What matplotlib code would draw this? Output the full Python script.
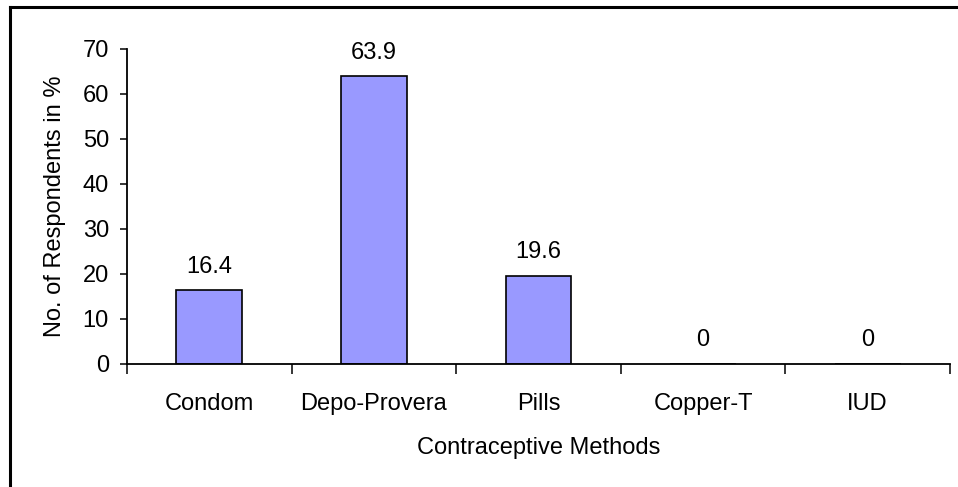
import matplotlib
matplotlib.use('Agg')
import matplotlib.pyplot as plt
from matplotlib.lines import Line2D

methods = ['Condom', 'Depo-Provera', 'Pills', 'Copper-T', 'IUD']
percent = [16.4, 63.9, 19.6, 0, 0]

plt.rcParams['font.family'] = ['Liberation Sans', 'DejaVu Sans']
FS = 17

fig = plt.figure(figsize=(9.58, 4.87), dpi=100)
ax = fig.add_axes([0.1326, 0.2526, 0.8590, 0.6468])

pos = list(range(len(methods)))
ax.bar(pos, percent, width=0.40, color='#9999FF', edgecolor='black', linewidth=1.2)

for x, v in zip(pos, percent):
    txt = '0' if v == 0 else f'{v:.1f}'
    ax.annotate(txt, (x, v), xytext=(0, 9), textcoords='offset points',
                ha='center', va='bottom', fontsize=FS)

ax.set_xlim(-0.5, len(methods) - 0.5)
ax.set_ylim(0, 70)
ax.set_yticks(range(0, 71, 10))

# category separators as major ticks, names on minor ticks
ax.set_xticks([p - 0.5 for p in pos] + [len(methods) - 0.5])
ax.set_xticklabels([])
ax.set_xticks(pos, minor=True)
ax.set_xticklabels(methods, minor=True)
ax.tick_params(axis='x', which='major', direction='out', length=7, width=1.1)
ax.tick_params(axis='x', which='minor', length=0, pad=21, labelsize=FS)
ax.tick_params(axis='y', direction='out', length=5, width=1.1, labelsize=FS, pad=8)

for s in ['top', 'right']:
    ax.spines[s].set_visible(False)
for s in ['left', 'bottom']:
    ax.spines[s].set_linewidth(1.3)

ax.set_xlabel('Contraceptive Methods', fontsize=FS, labelpad=16)
ax.set_ylabel('No. of Respondents in %', fontsize=FS, labelpad=12)

# chart frame (top and left edges)
fig.add_artist(Line2D([0.0104, 1.0], [0.9856, 0.9856], transform=fig.transFigure,
                      color='black', linewidth=2.2))
fig.add_artist(Line2D([0.0104, 0.0104], [0.0, 0.9856], transform=fig.transFigure,
                      color='black', linewidth=2.2))

fig.savefig('out.png', dpi=100)
